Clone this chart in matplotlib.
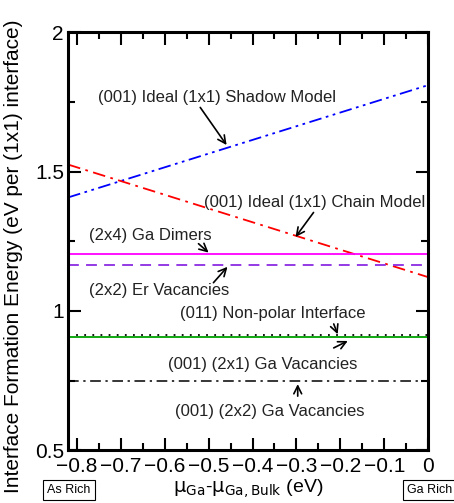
import numpy as np
import matplotlib.pyplot as plt

plt.rcParams['font.family'] = ['Liberation Sans', 'DejaVu Sans']
plt.rcParams['axes.unicode_minus'] = True

# chemical potential range (eV)
mu_ends = [-0.82, 0.0]

# sloped structures: energy at the two ends
shadow_E = [1.407, 1.81]
chain_E = [1.525, 1.121]

# flat structures
dimers_E = 1.205
er_vac_E = 1.164
nonpolar_E = 0.915
vac2x1_E = 0.905
vac2x2_E = 0.75

# labels: text, text position, arrow tail, arrow tip
labels = [
    ("(001) Ideal (1x1) Shadow Model", (-0.48, 1.766), (-0.519, 1.730), (-0.459, 1.595)),
    ("(001) Ideal (1x1) Chain Model", (-0.258, 1.388), (-0.261, 1.353), (-0.302, 1.265)),
    ("(2x4) Ga Dimers", (-0.633, 1.27), (-0.523, 1.241), (-0.500, 1.209)),
    ("(2x2) Er Vacancies", (-0.612, 1.072), (-0.489, 1.101), (-0.457, 1.158)),
    ("(011) Non-polar Interface", (-0.354, 0.989), (-0.215, 0.953), (-0.206, 0.916)),
    ("(001) (2x1) Ga Vacancies", (-0.377, 0.809), (-0.215, 0.867), (-0.183, 0.892)),
    ("(001) (2x2) Ga Vacancies", (-0.361, 0.64), (-0.297, 0.694), (-0.297, 0.737)),
]

xtick_vals = [-0.8, -0.7, -0.6, -0.5, -0.4, -0.3, -0.2, -0.1, 0.0]
xtick_text = ['\u22120.8', '\u22120.7', '\u22120.6', '\u22120.5', '\u22120.4',
              '\u22120.3', '\u22120.2', '\u22120.1', '0']

fig = plt.figure(figsize=(4.54, 5.03), dpi=100)
ax = fig.add_axes([0.15, 0.105, 0.793, 0.831])

ax.plot(mu_ends, shadow_E, color='#0000ff', lw=1.3, dashes=[7, 2.5, 1.5, 2.5, 1.5, 2.5])
ax.plot(mu_ends, chain_E, color='#ff0000', lw=1.3, dashes=[7, 3, 1.5, 3])
ax.plot(mu_ends, [dimers_E] * 2, color='#ff00ff', lw=1.3)
ax.plot(mu_ends, [er_vac_E] * 2, color='#8a2be2', lw=1.3, dashes=[6, 4])
ax.plot(mu_ends, [nonpolar_E] * 2, color='black', lw=1.3, dashes=[1, 3.5])
ax.plot(mu_ends, [vac2x1_E] * 2, color='#00a000', lw=1.3)
ax.plot(mu_ends, [vac2x2_E] * 2, color='black', lw=1.1, dashes=[7, 3, 1.5, 3])

for txt, tpos, tail, tip in labels:
    ax.text(tpos[0], tpos[1], txt, ha='center', va='center', fontsize=12, color='#222222')
    ax.annotate('', xy=tip, xytext=tail,
                arrowprops=dict(arrowstyle='->', color='black', lw=1.2,
                                mutation_scale=14, shrinkA=0, shrinkB=0))

ax.set_xlim(-0.82, 0.0)
ax.set_ylim(0.5, 2.0)
ax.set_xticks(xtick_vals)
ax.set_xticklabels(xtick_text)
ax.set_xticks(np.arange(-0.8, 0.01, 0.05), minor=True)
ax.set_yticks([0.5, 1.0, 1.5, 2.0])
ax.set_yticklabels(['0.5', '1', '1.5', '2'])
ax.set_yticks([0.75, 1.25, 1.75], minor=True)
ax.tick_params(which='both', direction='in', top=True, right=True, labelsize=15, width=1.5)
ax.tick_params(which='major', length=9, pad=3)
ax.tick_params(axis='x', which='major', pad=5)
ax.tick_params(which='minor', length=5)
for s in ax.spines.values():
    s.set_linewidth(2.2)

ax.set_ylabel('Interface Formation Energy (eV per (1x1) interface)', fontsize=15, labelpad=1)
ax.yaxis.set_label_coords(-0.125, 0.465)
ax.set_xlabel(r'$\mathrm{\mu_{Ga}}$-$\mathrm{\mu_{Ga,Bulk}}$ (eV)', fontsize=14, labelpad=1)

box = dict(boxstyle='square,pad=0.35', fc='white', ec='black', lw=0.8)
fig.text(69 / 454, 1 - 490 / 503, 'As Rich', ha='center', va='center', fontsize=9, bbox=box)
fig.text(430 / 454, 1 - 490 / 503, 'Ga Rich', ha='center', va='center', fontsize=9, bbox=box)

fig.savefig('out.png', dpi=100)
